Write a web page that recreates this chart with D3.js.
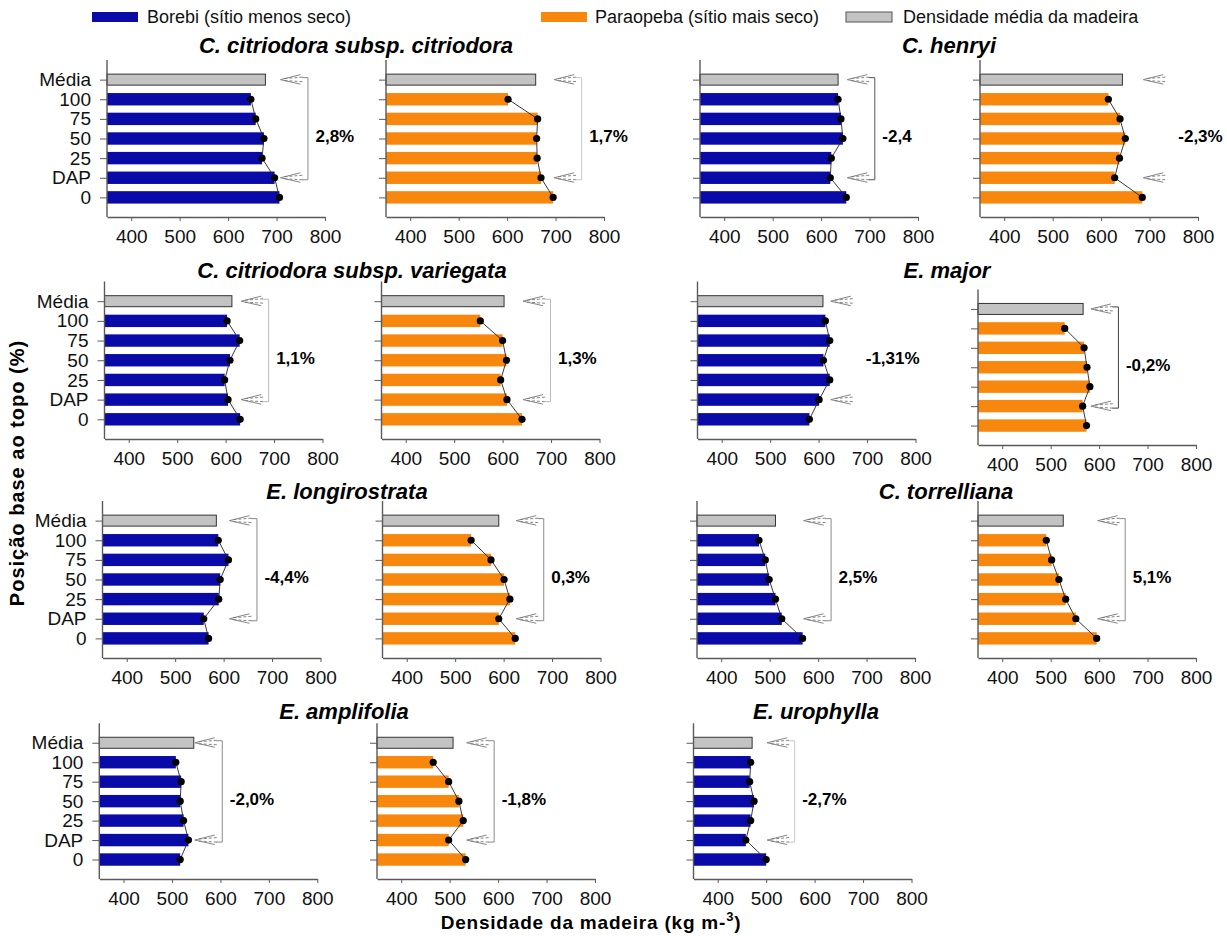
<!DOCTYPE html>
<html>
<head>
<meta charset="utf-8">
<script src="https://cdn.jsdelivr.net/npm/d3@7"></script>
<style>
  body { margin: 0; background: #fff; }
  svg { display: block; }
</style>
</head>
<body>
<svg id="chart" width="1227" height="936"></svg>
<script>
// Stem positions, base to top, plus the overall mean
const positions = ["Média", "100", "75", "50", "25", "DAP", "0"];
const xTicks = [400, 500, 600, 700, 800];
const xDomain = [350, 800];

// Wood density (kg m-3) per position, ordered as `positions`
const borebiCitriodora     = [677, 647, 657, 674, 670, 696, 706];
const paraopebaCitriodora  = [659, 602, 663, 661, 662, 670, 695];
const borebiHenryi         = [635, 635, 641, 645, 621, 619, 652];
const paraopebaHenryi      = [644, 615, 639, 650, 638, 628, 685];
const borebiVariegata      = [613, 603, 629, 609, 598, 605, 630];
const paraopebaVariegata   = [603, 554, 600, 608, 596, 609, 640];
const borebiMajor          = [609, 614, 623, 610, 623, 601, 581];
const paraopebaMajor       = [567, 529, 569, 575, 581, 566, 574];
const borebiLongirostrata  = [585, 589, 610, 593, 590, 559, 569];
const paraopebaLongirostrata = [590, 533, 574, 601, 613, 590, 624];
const borebiTorrelliana    = [512, 478, 491, 499, 512, 525, 568];
const paraopebaTorrelliana = [526, 491, 502, 517, 531, 552, 595];
const borebiAmplifolia     = [545, 508, 519, 517, 524, 534, 517];
const paraopebaAmplifolia  = [507, 466, 498, 519, 528, 498, 533];
const borebiUrophylla      = [471, 468, 466, 475, 468, 458, 500];

// Difference between DAP and the mean, as printed beside each panel
const diffLabels = ["2,8%", "1,7%", "-2,4", "-2,3%", "1,1%", "1,3%", "-1,31%", "-0,2%",
                    "-4,4%", "0,3%", "2,5%", "5,1%", "-2,0%", "-1,8%", "-2,7%"];

const speciesNames = ["C. citriodora subsp. citriodora", "C. henryi",
                      "C. citriodora subsp. variegata", "E. major",
                      "E. longirostrata", "C. torrelliana",
                      "E. amplifolia", "E. urophylla"];

const legendLabels = ["Borebi (sítio menos seco)", "Paraopeba (sítio mais seco)", "Densidade média da madeira"];

const siteColors = ["#0a0aa8", "#f8870e"];
const meanColor = "#c3c3c3";
const FONT = "'Liberation Sans', Arial, Helvetica, sans-serif";

// Panel grid: each entry places one site/species plot
const panels = [
  { vals: borebiCitriodora,      site: 0, lab: 0,  x: 107,   top: 60,    bottom: 217, yLabels: true,  bracket: true },
  { vals: paraopebaCitriodora,   site: 1, lab: 1,  x: 386,   top: 60,    bottom: 217, bracket: true, bracketColor: "#c8c8c8" },
  { vals: borebiHenryi,          site: 0, lab: 2,  x: 700,   top: 60,    bottom: 217, bracket: true, bracketColor: "#555" },
  { vals: paraopebaHenryi,       site: 1, lab: 3,  x: 980,   top: 60,    bottom: 217, bracket: false },
  { vals: borebiVariegata,       site: 0, lab: 4,  x: 104.5, top: 281.5, bottom: 439, yLabels: true,  bracket: true, bracketColor: "#bbb" },
  { vals: paraopebaVariegata,    site: 1, lab: 5,  x: 381.5, top: 281.5, bottom: 439, bracket: true, bracketColor: "#bbb" },
  { vals: borebiMajor,           site: 0, lab: 6,  x: 697.5, top: 281.5, bottom: 439, bracket: false },
  { vals: paraopebaMajor,        site: 1, lab: 7,  x: 978,   top: 289.5, bottom: 445, bracket: true, bracketColor: "#444" },
  { vals: borebiLongirostrata,   site: 0, lab: 8,  x: 102.5, top: 501,   bottom: 658, yLabels: true,  bracket: true },
  { vals: paraopebaLongirostrata,site: 1, lab: 9,  x: 382.5, top: 501,   bottom: 658, bracket: true },
  { vals: borebiTorrelliana,     site: 0, lab: 10, x: 697,   top: 501,   bottom: 658, bracket: true },
  { vals: paraopebaTorrelliana,  site: 1, lab: 11, x: 978,   top: 501,   bottom: 658, bracket: true },
  { vals: borebiAmplifolia,      site: 0, lab: 12, x: 99.3,  top: 723.3, bottom: 879, yLabels: true,  bracket: true },
  { vals: paraopebaAmplifolia,   site: 1, lab: 13, x: 377,   top: 723.3, bottom: 879, bracket: true },
  { vals: borebiUrophylla,       site: 0, lab: 14, x: 693.5, top: 723.3, bottom: 879, bracket: true, bracketColor: "#c8c8c8" }
];

const titles = [
  { name: 0, cx: 356, cy: 45 },  { name: 1, cx: 949, cy: 45 },
  { name: 2, cx: 352, cy: 270 }, { name: 3, cx: 947, cy: 270 },
  { name: 4, cx: 347, cy: 491 }, { name: 5, cx: 946, cy: 491 },
  { name: 6, cx: 344, cy: 711 }, { name: 7, cx: 816, cy: 711 }
];

const svg = d3.select("#chart");
const PLOT_W = 218;
const AXIS_COLOR = "#5a5a5a";

function drawArrow(g, tx, y) {
  const a = g.append("g").attr("fill", "none").attr("stroke", "#777").attr("stroke-width", 0.9);
  a.append("path").attr("d", `M${tx},${y} L${tx + 20},${y - 5} M${tx},${y} L${tx + 20},${y + 4.5}`);
  a.append("path").attr("d", `M${tx + 4},${y - 1} L${tx + 22},${y - 2.5} M${tx + 4},${y + 1} L${tx + 22},${y + 2}`)
    .attr("stroke-dasharray", "3,2");
}

panels.forEach(p => {
  const x = d3.scaleLinear().domain(xDomain).range([p.x, p.x + PLOT_W]);
  const y = d3.scalePoint().domain(positions).range([p.top, p.bottom]).padding(1);
  const g = svg.append("g");
  const barH = 12.4;

  // bars: mean (grey, outlined) + per-position density
  positions.forEach((pos, i) => {
    const v = p.vals[i];
    if (i === 0) {
      g.append("rect")
        .attr("x", x(xDomain[0])).attr("y", y(pos) - 5.5)
        .attr("width", x(v) - x(xDomain[0])).attr("height", 11)
        .attr("fill", meanColor).attr("stroke", "#333").attr("stroke-width", 1);
    } else {
      g.append("rect")
        .attr("x", x(xDomain[0])).attr("y", y(pos) - barH / 2)
        .attr("width", x(v) - x(xDomain[0])).attr("height", barH)
        .attr("fill", siteColors[p.site]);
    }
  });

  // profile line through the position values
  const profile = positions.slice(1).map((pos, i) => [x(p.vals[i + 1]), y(pos)]);
  g.append("path").attr("d", d3.line()(profile))
    .attr("fill", "none").attr("stroke", "#222").attr("stroke-width", 0.9);
  g.selectAll("circle.pt").data(profile).join("circle")
    .attr("cx", d => d[0]).attr("cy", d => d[1]).attr("r", 3.6).attr("fill", "#000");

  // axes
  const xAxis = d3.axisBottom(x).tickValues(xTicks).tickSize(4).tickPadding(9).tickSizeOuter(0);
  const gx = g.append("g").attr("transform", `translate(0,${p.bottom})`).call(xAxis);
  gx.select(".domain").attr("stroke", AXIS_COLOR).attr("stroke-width", 1.4);
  gx.selectAll(".tick line").attr("stroke", AXIS_COLOR);
  gx.selectAll("text").attr("font-family", FONT).attr("font-size", 19).attr("fill", "#111");

  const yAxis = d3.axisLeft(y).tickSize(7).tickPadding(9).tickSizeOuter(0);
  const gy = g.append("g").attr("transform", `translate(${p.x},0)`).call(yAxis);
  gy.select(".domain").attr("d", `M0,${p.top}V${p.bottom}`).attr("stroke", AXIS_COLOR).attr("stroke-width", 1.4);
  gy.selectAll(".tick line").attr("stroke", AXIS_COLOR);
  gy.selectAll("text").attr("font-family", FONT).attr("font-size", 19).attr("fill", "#111");
  if (!p.yLabels) gy.selectAll("text").remove();

  // mean/DAP comparison markers
  const tip = x(d3.max(p.vals)) + 1;
  drawArrow(g, tip, y("Média"));
  drawArrow(g, tip, y("DAP"));
  const bx = tip + 27.5;
  if (p.bracket) {
    g.append("path")
      .attr("d", `M${bx - 6},${y("Média") - 2} H${bx} V${y("DAP") + 2} H${bx - 6}`)
      .attr("fill", "none").attr("stroke", p.bracketColor || "#8a8a8a").attr("stroke-width", 1);
  }
  g.append("text")
    .attr("x", tip + 35).attr("y", y("50") - 2)
    .attr("dominant-baseline", "central")
    .attr("font-family", FONT).attr("font-weight", "bold").attr("font-size", 17)
    .text(diffLabels[p.lab]);
});

// species titles
titles.forEach(t => {
  svg.append("text")
    .attr("x", t.cx).attr("y", t.cy).attr("text-anchor", "middle").attr("dominant-baseline", "central")
    .attr("font-family", FONT).attr("font-weight", "bold").attr("font-style", "italic").attr("font-size", 22)
    .text(speciesNames[t.name]);
});

// legend
const legendItems = [
  { rx: 92,  tx: 147, fill: siteColors[0], stroke: "none" },
  { rx: 541, tx: 595, fill: siteColors[1], stroke: "none" },
  { rx: 846, tx: 903, fill: meanColor, stroke: "#555" }
];
legendItems.forEach((it, i) => {
  svg.append("rect").attr("x", it.rx).attr("y", 12).attr("width", 46).attr("height", 10)
    .attr("fill", it.fill).attr("stroke", it.stroke);
  svg.append("text").attr("x", it.tx).attr("y", 17).attr("dominant-baseline", "central")
    .attr("font-family", FONT).attr("font-size", 18).attr("fill", "#111")
    .text(legendLabels[i]);
});

// axis titles
svg.append("text")
  .attr("transform", "translate(17,473) rotate(-90)")
  .attr("text-anchor", "middle").attr("dominant-baseline", "central")
  .attr("font-family", FONT).attr("font-weight", "bold").attr("font-size", 20).attr("letter-spacing", 1)
  .text("Posição base ao topo (%)");

const xt = svg.append("text")
  .attr("x", 591).attr("y", 922).attr("text-anchor", "middle").attr("dominant-baseline", "central")
  .attr("font-family", FONT).attr("font-weight", "bold").attr("font-size", 19).attr("letter-spacing", 0.8);
xt.append("tspan").text("Densidade da madeira (kg m-");
xt.append("tspan").attr("dy", -6).attr("font-size", 13).text("3");
xt.append("tspan").attr("dy", 6).text(")");
</script>
</body>
</html>
